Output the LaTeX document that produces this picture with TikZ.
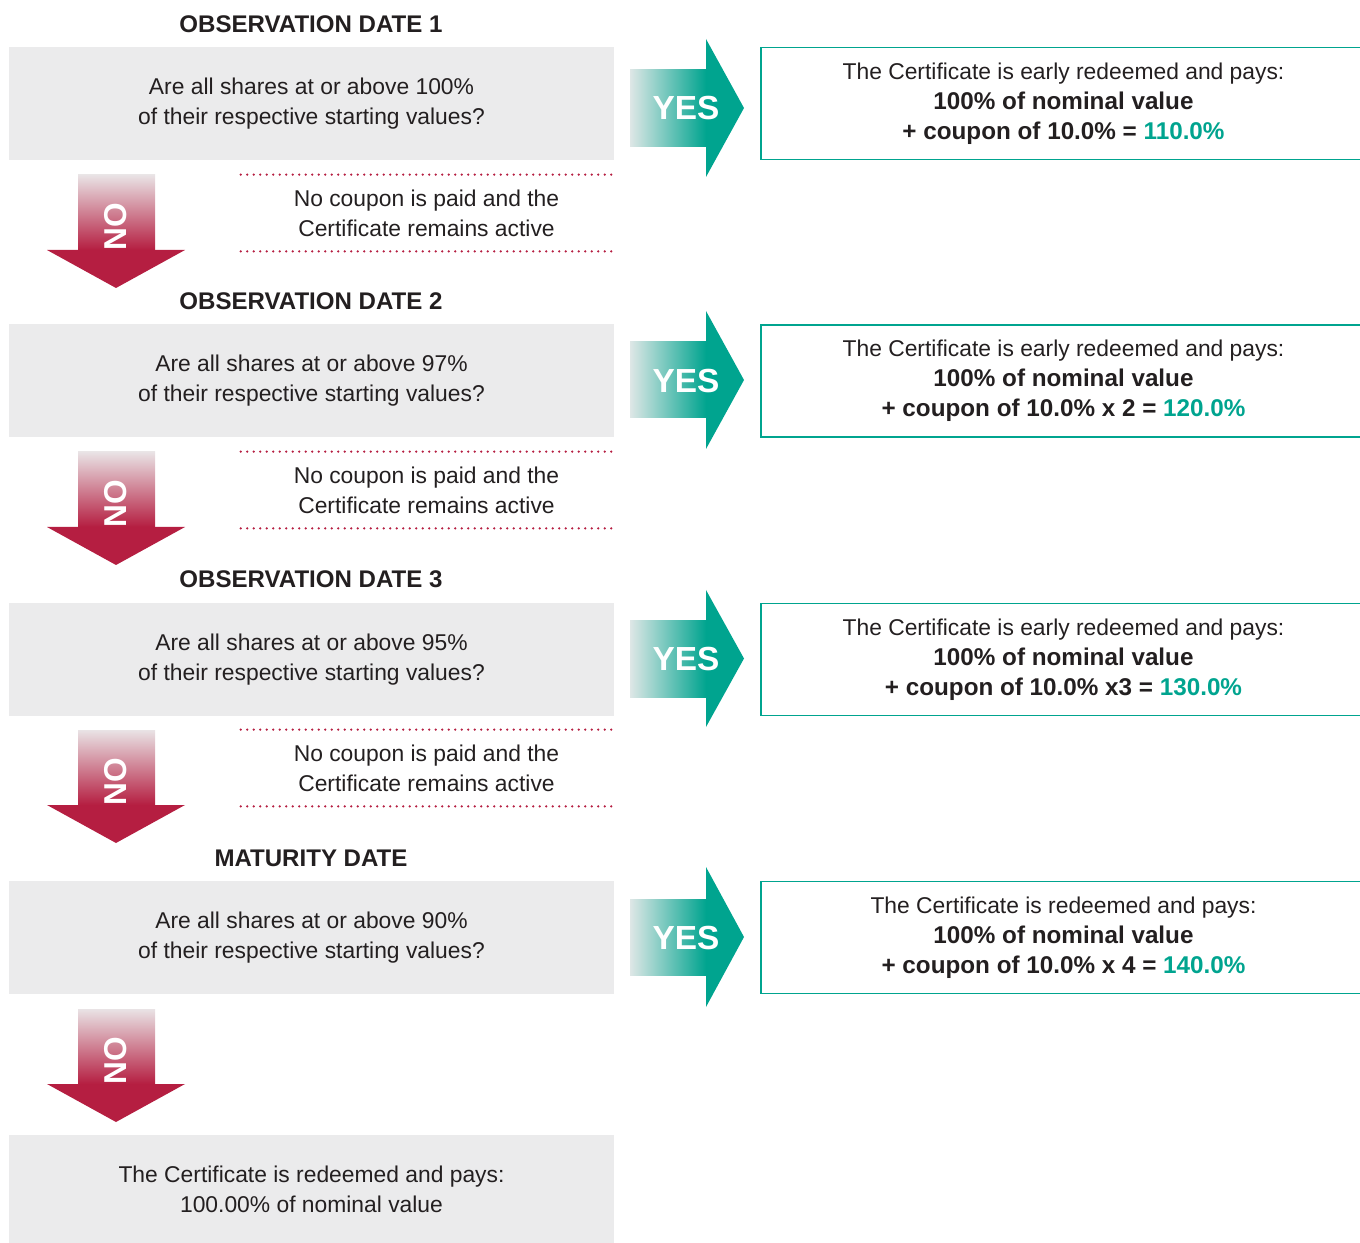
\documentclass[tikz,border=0pt]{standalone}
\usepackage{fontspec}
\setmainfont{Liberation Sans}
\usetikzlibrary{positioning}

\definecolor{certteal}{HTML}{00A48F}
\definecolor{yesfade}{HTML}{DEE7E6}
\definecolor{nored}{HTML}{B51E41}
\definecolor{nofade}{HTML}{E9E3E5}
\definecolor{boxgrey}{HTML}{EBEBEC}
\definecolor{ink}{HTML}{231F20}

\newcommand{\heavy}[1]{{\fontsize{13.8}{17}\selectfont\bfseries #1}}

\tikzset{
  every node/.style={text=ink, font=\fontsize{13}{17}\selectfont},
  obstitle/.style={font=\fontsize{13.7}{17}\selectfont\bfseries},
  questionbox/.style={fill=boxgrey, minimum width=12.1cm, minimum height=2.26cm,
    align=center, inner sep=0pt},
  payoutbox/.style={draw=certteal, line width=0.9pt, minimum width=12.1cm,
    minimum height=2.24cm, align=center, inner sep=0pt},
  notetext/.style={minimum width=7.42cm, minimum height=1.52cm, align=center, inner sep=0pt},
  dotrule/.style={nored, line width=1.4pt, line cap=round, dash pattern=on 0pt off 3.7pt},
  yeslabel/.style={text=white, font=\fontsize{19}{19}\selectfont\bfseries},
  nolabel/.style={text=white, font=\fontsize{18}{18}\selectfont\bfseries, rotate=90},
}

\begin{document}
\begin{tikzpicture}[x=0.02cm, y=-0.02cm]
\useasboundingbox (0,0) rectangle (1360,1243);

% observation date 1
\node[obstitle] (t1) at (311,24) {OBSERVATION DATE 1};
\node[questionbox] (q1) at (311.5,103.5)
  {Are all shares at or above 100\%\\of their respective starting values?};
\shade[left color=yesfade, right color=certteal] (630,70) rectangle (706,147);
\fill[certteal] (706,39) -- (744,108) -- (706,177) -- cycle;
\node[yeslabel] (y1) at (686,108) {YES};
\node[payoutbox] (p1) at (1063.5,103.5)
  {The Certificate is early redeemed and pays:\\
   \heavy{100\% of nominal value}\\
   \heavy{+ coupon of 10.0\% = \textcolor{certteal}{110.0\%}}};
\shade[top color=nofade, bottom color=nored] (78,175) rectangle (155,250);
\fill[nored] (47,250) -- (116,288) -- (185,250) -- cycle;
\node[nolabel] (n1) at (116,227) {NO};
\node[notetext] (c1) at (426.5,213) {No coupon is paid and the\\Certificate remains active};
\draw[dotrule] (c1.north west) -- (c1.north east);
\draw[dotrule] (c1.south west) -- (c1.south east);

% observation date 2
\node[obstitle] (t2) at (311,301) {OBSERVATION DATE 2};
\node[questionbox] (q2) at (311.5,380.5)
  {Are all shares at or above 97\%\\of their respective starting values?};
\shade[left color=yesfade, right color=certteal] (630,342) rectangle (706,418);
\fill[certteal] (706,311) -- (744,380) -- (706,449) -- cycle;
\node[yeslabel] (y2) at (686,381) {YES};
\node[payoutbox] (p2) at (1063.5,381)
  {The Certificate is early redeemed and pays:\\
   \heavy{100\% of nominal value}\\
   \heavy{+ coupon of 10.0\% x 2 = \textcolor{certteal}{120.0\%}}};
\shade[top color=nofade, bottom color=nored] (78,452) rectangle (155,527);
\fill[nored] (47,527) -- (116,565) -- (185,527) -- cycle;
\node[nolabel] (n2) at (116,504) {NO};
\node[notetext] (c2) at (426.5,490) {No coupon is paid and the\\Certificate remains active};
\draw[dotrule] (c2.north west) -- (c2.north east);
\draw[dotrule] (c2.south west) -- (c2.south east);

% observation date 3
\node[obstitle] (t3) at (311,579) {OBSERVATION DATE 3};
\node[questionbox] (q3) at (311.5,659.5)
  {Are all shares at or above 95\%\\of their respective starting values?};
\shade[left color=yesfade, right color=certteal] (630,620) rectangle (706,697);
\fill[certteal] (706,590) -- (744,658.5) -- (706,727) -- cycle;
\node[yeslabel] (y3) at (686,659) {YES};
\node[payoutbox] (p3) at (1063.5,659.5)
  {The Certificate is early redeemed and pays:\\
   \heavy{100\% of nominal value}\\
   \heavy{+ coupon of 10.0\% x3 = \textcolor{certteal}{130.0\%}}};
\shade[top color=nofade, bottom color=nored] (78,730) rectangle (155,805);
\fill[nored] (47,805) -- (116,843) -- (185,805) -- cycle;
\node[nolabel] (n3) at (116,782) {NO};
\node[notetext] (c3) at (426.5,768) {No coupon is paid and the\\Certificate remains active};
\draw[dotrule] (c3.north west) -- (c3.north east);
\draw[dotrule] (c3.south west) -- (c3.south east);

% maturity date
\node[obstitle] (t4) at (311,858) {MATURITY DATE};
\node[questionbox] (q4) at (311.5,937.5)
  {Are all shares at or above 90\%\\of their respective starting values?};
\shade[left color=yesfade, right color=certteal] (630,899) rectangle (706,975);
\fill[certteal] (706,867) -- (744,937) -- (706,1007) -- cycle;
\node[yeslabel] (y4) at (686,938) {YES};
\node[payoutbox] (p4) at (1063.5,937.5)
  {The Certificate is redeemed and pays:\\
   \heavy{100\% of nominal value}\\
   \heavy{+ coupon of 10.0\% x 4 = \textcolor{certteal}{140.0\%}}};
\shade[top color=nofade, bottom color=nored] (78,1009) rectangle (155,1084);
\fill[nored] (47,1084) -- (116,1122) -- (185,1084) -- cycle;
\node[nolabel] (n4) at (116,1061) {NO};
\node[questionbox, minimum height=2.16cm] (f) at (311.5,1189)
  {The Certificate is redeemed and pays:\\100.00\% of nominal value};
\end{tikzpicture}
\end{document}
